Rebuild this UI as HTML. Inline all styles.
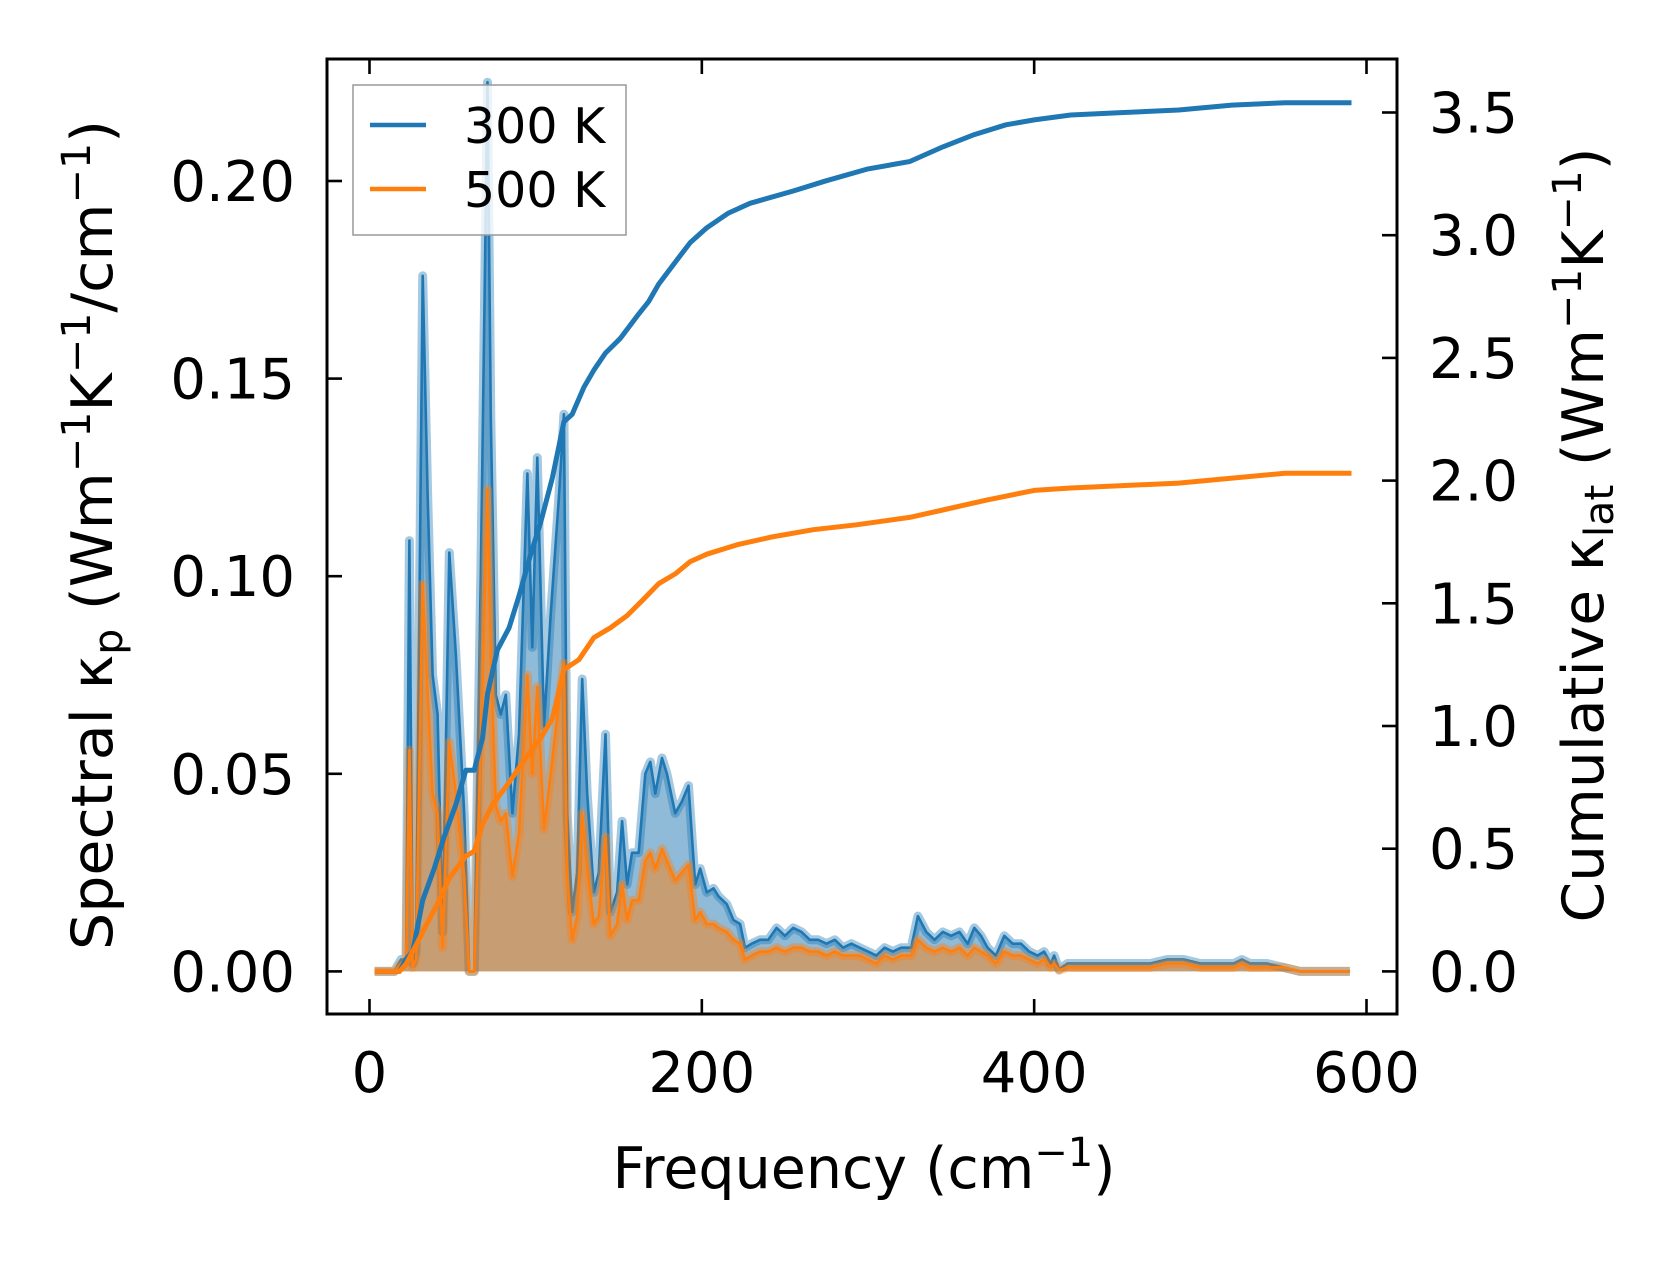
<!DOCTYPE html>
<html><head><meta charset="utf-8"><style>
html,body{margin:0;padding:0;background:#fff;}
svg{display:block;font-family:"DejaVu Sans","Liberation Sans",sans-serif;}
</style></head><body>
<svg id="chart" width="1679" height="1264" viewBox="0 0 1679 1264" xmlns="http://www.w3.org/2000/svg">
<g id="marks"></g>
<g id="axes"></g>
</svg>
<script>
const freqSpec = [3,15,19,22,24,26,28,32,35,38,41,44,48,52,57,60,63,67,71,73,76,79,82,86,90,95,98,101,105,109,114,117,119,122,125,128,131,135,138,142,145,149,152,155,158,162,166,169,172,176,179,184,188,192,196,199,203,207,210,215,219,223,226,230,235,240,245,250,255,260,265,270,275,280,285,290,295,300,305,310,315,320,326,330,335,340,345,350,355,360,364,368,372,377,382,387,392,397,402,406,410,412,415,420,430,440,450,460,470,480,490,500,510,520,525,530,540,550,560,590];
const spec300 = [0,0,0.003,0.003,0.109,0.002,0.005,0.176,0.12,0.075,0.065,0.01,0.106,0.08,0.04,0,0,0.10,0.225,0.14,0.07,0.065,0.07,0.04,0.06,0.126,0.082,0.13,0.062,0.09,0.12,0.141,0.04,0.015,0.025,0.074,0.045,0.02,0.025,0.06,0.015,0.02,0.038,0.022,0.03,0.03,0.05,0.053,0.045,0.054,0.05,0.04,0.043,0.047,0.022,0.026,0.02,0.021,0.019,0.017,0.013,0.012,0.006,0.007,0.008,0.008,0.011,0.009,0.011,0.01,0.008,0.008,0.007,0.008,0.006,0.007,0.006,0.005,0.004,0.006,0.005,0.006,0.006,0.014,0.01,0.008,0.01,0.009,0.01,0.007,0.011,0.009,0.006,0.004,0.009,0.007,0.007,0.005,0.004,0.005,0.002,0.004,0.0005,0.002,0.002,0.002,0.002,0.002,0.002,0.003,0.003,0.002,0.002,0.002,0.003,0.002,0.002,0.001,0,0];
const spec500 = [0,0,0.002,0.002,0.056,0.001,0.003,0.098,0.07,0.045,0.04,0.006,0.058,0.045,0.024,0,0,0.058,0.122,0.08,0.042,0.038,0.04,0.024,0.035,0.075,0.05,0.072,0.036,0.05,0.068,0.078,0.024,0.008,0.014,0.04,0.026,0.012,0.014,0.034,0.009,0.012,0.022,0.013,0.018,0.018,0.028,0.03,0.026,0.031,0.028,0.023,0.025,0.027,0.013,0.015,0.012,0.012,0.011,0.01,0.008,0.007,0.003,0.004,0.005,0.005,0.006,0.005,0.006,0.006,0.005,0.005,0.004,0.005,0.004,0.004,0.004,0.003,0.002,0.004,0.003,0.004,0.004,0.008,0.006,0.005,0.006,0.005,0.006,0.004,0.006,0.005,0.004,0.002,0.005,0.004,0.004,0.003,0.002,0.003,0.001,0.002,0.0003,0.001,0.001,0.001,0.001,0.001,0.001,0.002,0.002,0.001,0.001,0.001,0.002,0.001,0.001,0.001,0,0];
const freqCum300 = [3,18,22,26,32,39,45,52,58,63,68,71,77,84,90,97,103,110,114,117,122,129,135,142,151,161,168,174,184,193,203,216,229,255,274,300,325,345,364,383,400,422,454,487,519,551,591];
const cum300 = [0,0,0.05,0.08,0.29,0.42,0.55,0.68,0.82,0.82,0.95,1.13,1.31,1.40,1.53,1.70,1.83,2.01,2.14,2.24,2.27,2.38,2.45,2.52,2.58,2.67,2.73,2.80,2.89,2.97,3.03,3.09,3.13,3.18,3.22,3.27,3.30,3.36,3.41,3.45,3.47,3.49,3.50,3.51,3.53,3.54,3.54];
const freqCum500 = [3,18,22,29,35,42,48,58,63,68,74,84,93,103,110,117,126,135,145,155,164,174,184,193,203,222,242,267,293,325,345,371,400,422,487,551,591];
const cum500 = [0,0,0.03,0.12,0.20,0.29,0.38,0.47,0.49,0.60,0.68,0.77,0.86,0.95,1.03,1.23,1.27,1.36,1.40,1.45,1.51,1.58,1.62,1.67,1.70,1.74,1.77,1.80,1.82,1.85,1.88,1.92,1.96,1.97,1.99,2.03,2.03];
const xTicks = [0,200,400,600];
const xTickLabels = ["0","200","400","600"];
const yLeftTicks = [0,0.05,0.10,0.15,0.20];
const yLeftTickLabels = ["0.00","0.05","0.10","0.15","0.20"];
const yRightTicks = [0,0.5,1.0,1.5,2.0,2.5,3.0,3.5];
const yRightTickLabels = ["0.0","0.5","1.0","1.5","2.0","2.5","3.0","3.5"];

const L=327,R=1397,T=59,B=1014;
const X = f => 369.5 + f*(1366.5-369.5)/600;
const YL = v => 971.4 - v*(971.4-181)/0.20;
const YR = v => 971.4 - v*(971.4-112.5)/3.5;
const NS="http://www.w3.org/2000/svg";
const marks=document.getElementById('marks'), axes=document.getElementById('axes');
function mk(tag, parent, attrs){const e=document.createElementNS(NS,tag);for(const k in attrs)e.setAttribute(k,attrs[k]);parent.appendChild(e);return e;}
function pts(xs,ys,fy){return xs.map((f,i)=>X(f).toFixed(1)+','+fy(ys[i]).toFixed(1)).join(' ');}

function area(xs,ys,color,name){
  const p=pts(xs,ys,YL)+' '+X(xs[xs.length-1]).toFixed(1)+','+YL(0)+' '+X(xs[0]).toFixed(1)+','+YL(0);
  const e=mk('polygon',marks,{points:p,fill:color,'fill-opacity':0.5,stroke:'none'});
  
  
}
area(freqSpec,spec300,'#1f77b4','spectral-300k-fill');
area(freqSpec,spec500,'#ff7f0e','spectral-500k-fill');
function specLine(ys,color,name){
  const h=mk('polyline',marks,{points:pts(freqSpec,ys,YL),fill:'none',stroke:color,'stroke-width':9,'stroke-opacity':0.4,'stroke-linejoin':'round'});
  
  
  const e=mk('polyline',marks,{points:pts(freqSpec,ys,YL),fill:'none',stroke:color,'stroke-width':2.6,'stroke-linejoin':'round'});
  
  
}
specLine(spec300,'#1f77b4','spectral-300k-line');
specLine(spec500,'#ff7f0e','spectral-500k-line');
function cumLine(xs,ys,color,name){
  const e=mk('polyline',marks,{points:pts(xs,ys,YR),fill:'none',stroke:color,'stroke-width':5,'stroke-linejoin':'round'});
  
  
}
cumLine(freqCum300,cum300,'#1f77b4','cumulative-300k-line');
cumLine(freqCum500,cum500,'#ff7f0e','cumulative-500k-line');

const fr=mk('rect',axes,{x:L,y:T,width:R-L,height:B-T,fill:'none',stroke:'#000','stroke-width':3});


const TL=15;
xTicks.forEach((t,i)=>{
  const x=X(t);
  mk('line',axes,{x1:x,x2:x,y1:B,y2:B-TL,stroke:'#000','stroke-width':2.6});
  mk('line',axes,{x1:x,x2:x,y1:T,y2:T+TL,stroke:'#000','stroke-width':2.6});
  const tx=mk('text',axes,{x:x,y:1092,'text-anchor':'middle','font-size':56});
  tx.textContent=xTickLabels[i];
  
  
});
yLeftTicks.forEach((t,i)=>{
  const y=YL(t);
  mk('line',axes,{x1:L,x2:L+TL,y1:y,y2:y,stroke:'#000','stroke-width':2.6});
  const tx=mk('text',axes,{x:295,y:y+20,'text-anchor':'end','font-size':56});
  tx.textContent=yLeftTickLabels[i];
  
  
});
yRightTicks.forEach((t,i)=>{
  const y=YR(t);
  mk('line',axes,{x1:R,x2:R-TL,y1:y,y2:y,stroke:'#000','stroke-width':2.6});
  const tx=mk('text',axes,{x:1429,y:y+20,'text-anchor':'start','font-size':56});
  tx.textContent=yRightTickLabels[i];
  
  
});
</script>
<svg style="position:absolute;left:0;top:0" width="1679" height="1264" viewBox="0 0 1679 1264" xmlns="http://www.w3.org/2000/svg" font-family="DejaVu Sans, Liberation Sans, sans-serif">
  <text x="864" y="1188" text-anchor="middle" font-size="57">Frequency (cm<tspan font-size="40" dy="-22">−1</tspan><tspan dy="22">)</tspan></text>
  <text transform="translate(112,535) rotate(-90)" text-anchor="middle" font-size="57" textLength="830" lengthAdjust="spacingAndGlyphs">Spectral κ<tspan font-size="40" dy="10">p</tspan><tspan dy="-10"> (Wm</tspan><tspan font-size="40" dy="-22">−1</tspan><tspan dy="22">K</tspan><tspan font-size="40" dy="-22">−1</tspan><tspan dy="22">/cm</tspan><tspan font-size="40" dy="-22">−1</tspan><tspan dy="22">)</tspan></text>
  <text transform="translate(1603,535) rotate(-90)" text-anchor="middle" font-size="57" textLength="775" lengthAdjust="spacingAndGlyphs">Cumulative κ<tspan font-size="40" dy="10">lat</tspan><tspan dy="-10"> (Wm</tspan><tspan font-size="40" dy="-22">−1</tspan><tspan dy="22">K</tspan><tspan font-size="40" dy="-22">−1</tspan><tspan dy="22">)</tspan></text>
  <g>
    <rect x="353" y="85" width="273" height="150" fill="#fff" fill-opacity="0.8" stroke="#999" stroke-width="1.5"/>
    <line x1="370" x2="426" y1="125" y2="125" stroke="#1f77b4" stroke-width="4.6"/>
    <text x="464" y="143" font-size="49">300 K</text>
    <line x1="370" x2="426" y1="189" y2="189" stroke="#ff7f0e" stroke-width="4.6"/>
    <text x="464" y="207" font-size="49">500 K</text>
  </g>
</svg>
</body></html>
